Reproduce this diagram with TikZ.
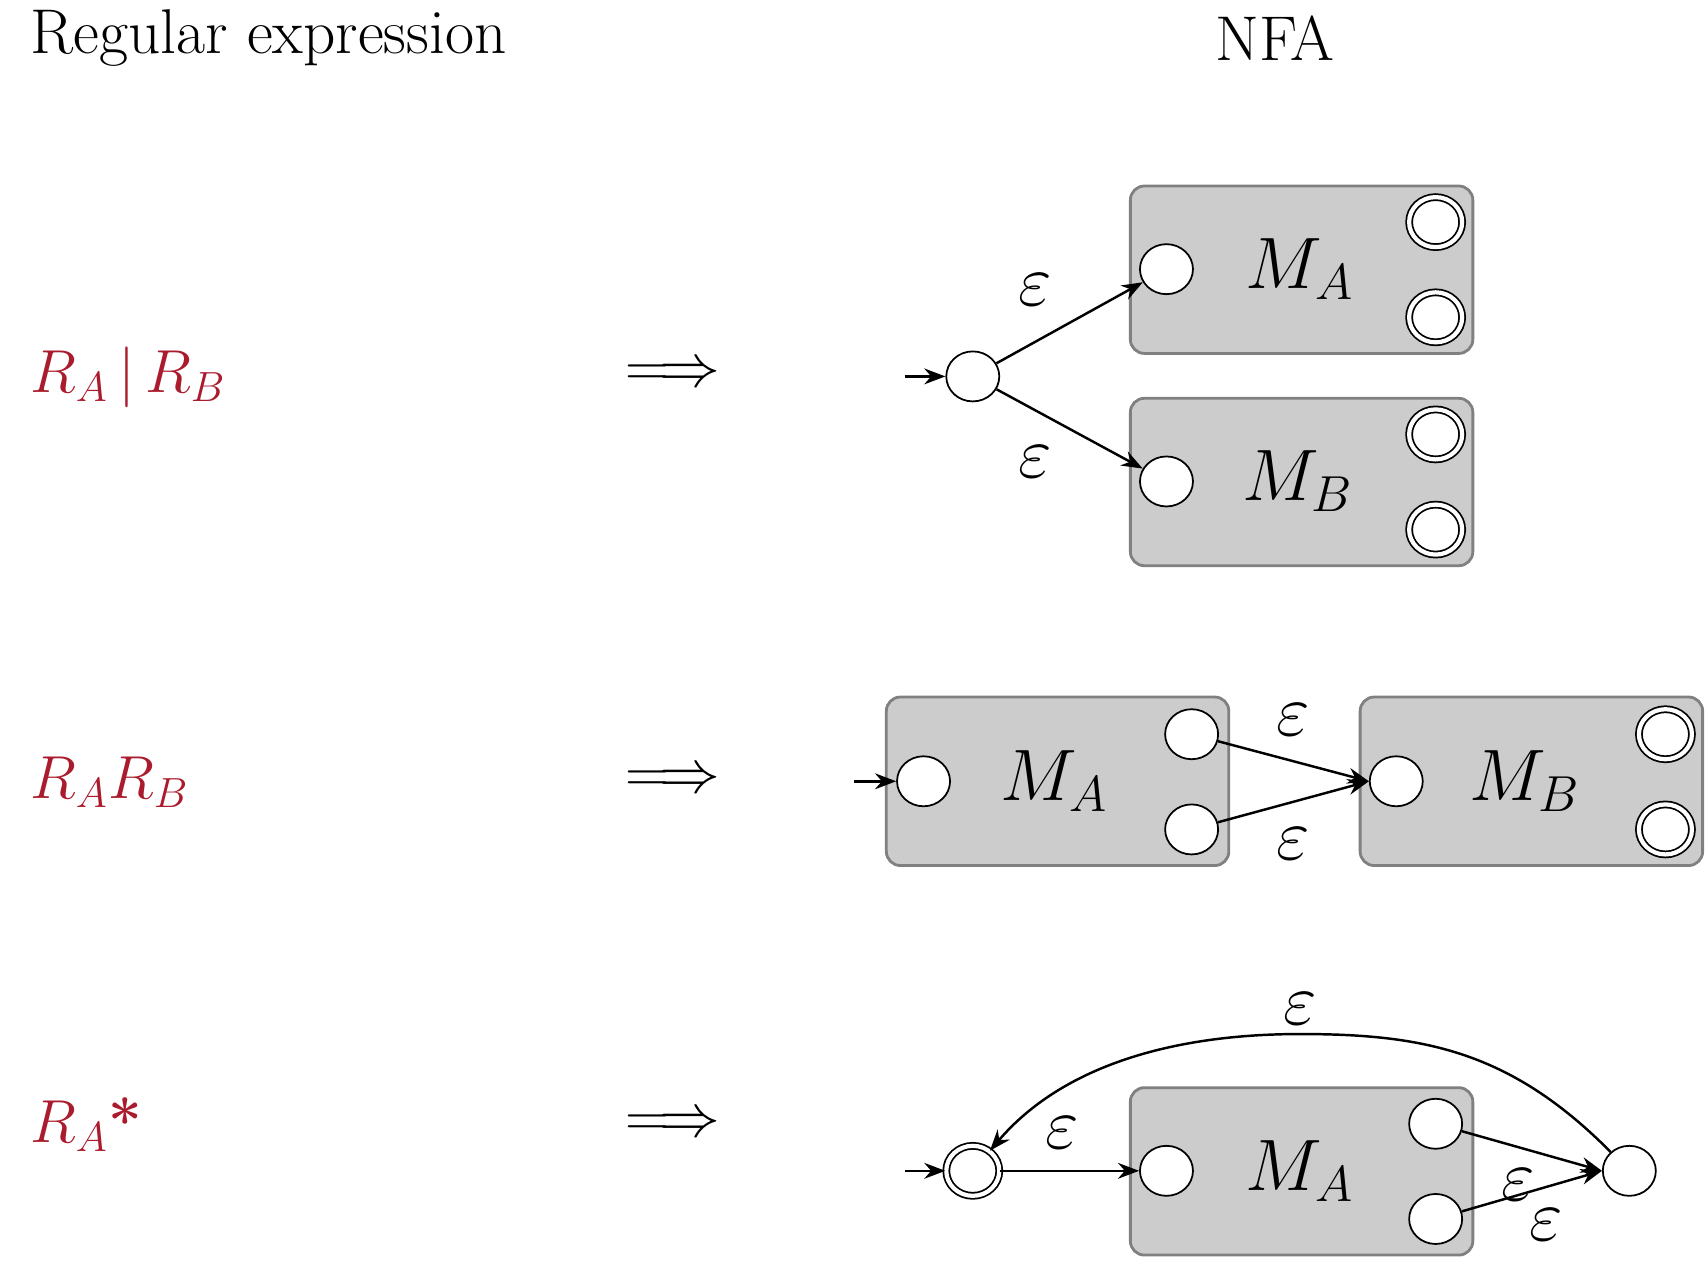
\documentclass[tikz,border=0pt]{standalone}
\usepackage{amsmath}
\usepackage{tikz}
\usetikzlibrary{calc,positioning,arrows.meta,shapes.geometric}
\definecolor{reCol}{RGB}{170,28,45}

\begin{document}
\fontsize{18}{21}\selectfont
\begin{tikzpicture}[x=0.01094cm, y=-0.01094cm,
    state/.style={draw, ellipse, fill=white, minimum width=0.53cm, minimum height=0.5cm, inner sep=0pt, line width=0.5pt},
    accept/.style={state, double, double distance=1.2pt},
    machine/.style={draw=gray, fill=gray!40, rounded corners=4pt, line width=0.8pt},
    edge/.style={-{Stealth[length=6pt]}, line width=0.7pt},
    eps/.style={font=\fontsize{20}{22}\selectfont},
    regex/.style={text=reCol, anchor=west, font=\fontsize{17}{20}\selectfont},
    implies/.style={font=\fontsize{18}{20}\selectfont}]
        \useasboundingbox (0,0) rectangle (1560,1155);

        \node [anchor=west] (title_re) at (8,35) {Regular expression};
        \node (title_nfa) at (1165,35) {NFA};

        % union
        \node [regex] (re_union) at (8,345) {$R_A\,|\,R_B$};
        \node [implies] (imp_union) at (615,343) {$\Longrightarrow$};
        \draw [machine] (1033,170) rectangle (1346,323);
        \draw [machine] (1033,364) rectangle (1346,517);
        \node [font=\fontsize{22}{24}\selectfont] (u_ma) at (1188,246) {$M_A$};
        \node [font=\fontsize{22}{24}\selectfont] (u_mb) at (1186,440) {$M_B$};
        \node [state] (u_init) at (889,344) {};
        \node [state] (u_sa) at (1066,246) {};
        \node [accept] (u_fa1) at (1312,203) {};
        \node [accept] (u_fa2) at (1312,290) {};
        \node [state] (u_sb) at (1066,440) {};
        \node [accept] (u_fb1) at (1312,397) {};
        \node [accept] (u_fb2) at (1312,484) {};
        \coordinate (u_in) at (827,344);
        \draw [edge] (u_in) -- (u_init);
        \draw [edge] (u_init) -- node [eps, above left=-2pt] {$\varepsilon$} (u_sa);
        \draw [edge] (u_init) -- node [eps, below left=-2pt] {$\varepsilon$} (u_sb);

        % concatenation
        \node [regex] (re_concat) at (8,715) {$R_AR_B$};
        \node [implies] (imp_concat) at (615,714) {$\Longrightarrow$};
        \draw [machine] (810,637) rectangle (1123,791);
        \draw [machine] (1243,637) rectangle (1556,791);
        \node [font=\fontsize{22}{24}\selectfont] (c_ma) at (964,714) {$M_A$};
        \node [font=\fontsize{22}{24}\selectfont] (c_mb) at (1394,714) {$M_B$};
        \node [state] (c_sa) at (844,714) {};
        \node [state] (c_fa1) at (1089,671) {};
        \node [state] (c_fa2) at (1089,758) {};
        \node [state] (c_sb) at (1276,714) {};
        \node [accept] (c_fb1) at (1522,671) {};
        \node [accept] (c_fb2) at (1522,758) {};
        \coordinate (c_in) at (780,714);
        \draw [edge] (c_in) -- (c_sa);
        \draw [edge] (c_fa1) -- node [eps, above=1pt] {$\varepsilon$} (c_sb.west);
        \draw [edge] (c_fa2) -- node [eps, below=1pt] {$\varepsilon$} (c_sb.west);

        % star
        \node [regex] (re_star) at (8,1028) {$R_A$\textbf{*}};
        \node [implies] (imp_star) at (615,1028) {$\Longrightarrow$};
        \draw [machine] (1033,994) rectangle (1346,1147);
        \node [font=\fontsize{22}{24}\selectfont] (s_ma) at (1188,1070) {$M_A$};
        \node [accept] (s_init) at (889,1070) {};
        \node [state] (s_sa) at (1066,1070) {};
        \node [state] (s_fa1) at (1312,1027) {};
        \node [state] (s_fa2) at (1312,1114) {};
        \node [state] (s_end) at (1489,1070) {};
        \coordinate (s_in) at (827,1070);
        \draw [edge] (s_in) -- (s_init);
        \draw [edge] (s_init) -- node [eps, above, pos=0.45] {$\varepsilon$} (s_sa);
        \draw [edge] (s_fa1) -- node [eps, below, pos=0.4] {$\varepsilon$} (s_end.west);
        \draw [edge] (s_fa2) -- node [eps, below, pos=0.6] {$\varepsilon$} (s_end.west);
        \draw [edge] (s_end) .. controls (1380,960) and (1300,945) .. (1188,945)
            .. controls (1070,945) and (970,975) .. (s_init);
        \node [eps] (s_loop) at (1188,922) {$\varepsilon$};
    \end{tikzpicture}
\end{document}
